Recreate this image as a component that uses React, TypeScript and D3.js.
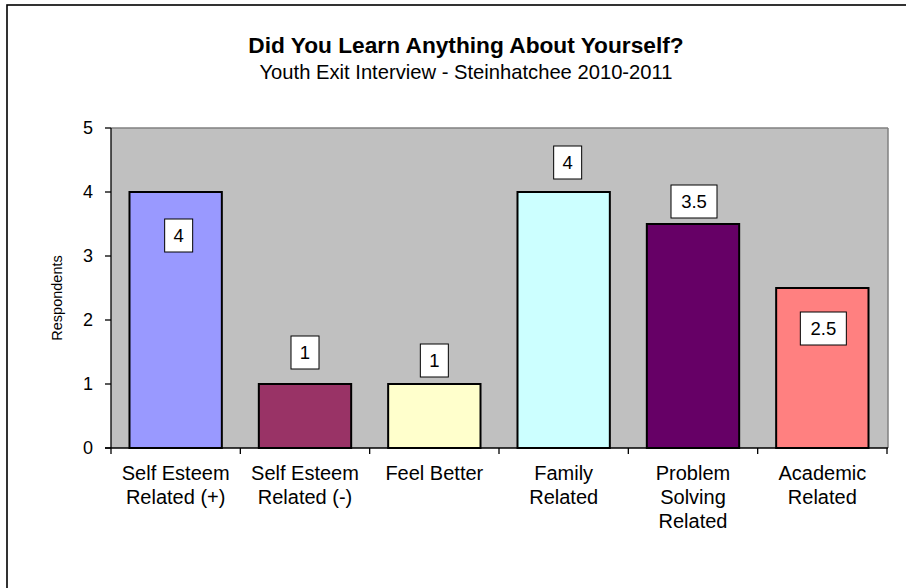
import React from "react";
import * as d3 from "d3";

const categories: string[][] = [
  ["Self Esteem", "Related (+)"],
  ["Self Esteem", "Related (-)"],
  ["Feel Better"],
  ["Family", "Related"],
  ["Problem", "Solving", "Related"],
  ["Academic", "Related"],
];
const values: number[] = [4, 1, 1, 4, 3.5, 2.5];
const valueLabels: string[] = ["4", "1", "1", "4", "3.5", "2.5"];
const yTicks: number[] = [0, 1, 2, 3, 4, 5];
const title = "Did You Learn Anything About Yourself?";
const subtitle = "Youth Exit Interview - Steinhatchee 2010-2011";
const yAxisTitle = "Respondents";

// styles
const barColors = ["#9999FF", "#993366", "#FFFFCC", "#CCFFFF", "#660066", "#FF8080"];
const labelDy = [27, -48, -40, -46, -39, 24];
const labelDx = [3, 0, 0, 4, 1, 1];

const W = 906;
const H = 588;
const left = 111;
const right = 887;
const top = 128;
const bottom = 448;
const FONT = "'Liberation Sans', Arial, sans-serif";

export default function App() {
  const x = d3
    .scaleBand<number>()
    .domain(values.map((_, i) => i))
    .range([left, right])
    .paddingInner(0.286)
    .paddingOuter(0.143);
  const y = d3.scaleLinear().domain([0, 5]).range([bottom, top]);
  const step = x.step();
  const boundaries = d3.range(values.length + 1).map((i) => left + i * step);

  return (
    <svg
      width={W}
      height={H}
      style={{ position: "absolute", left: 0, top: 0, background: "#fff" }}
      fontFamily={FONT}
    >
      <rect x={0} y={0} width={W} height={H} fill="#fff" />
      <rect x={7} y={5} width={1200} height={1200} fill="none" stroke="#000" strokeWidth={1.6} />

      <text x={466} y={53} textAnchor="middle" fontSize={22.7} fontWeight="bold" fill="#000">
        {title}
      </text>
      <text x={466} y={79} textAnchor="middle" fontSize={20.2} fill="#000">
        {subtitle}
      </text>

      {/* plot area */}
      <rect x={left} y={top} width={right - left + 1} height={bottom - top} fill="#C0C0C0" />
      <line x1={left} x2={right + 1} y1={top} y2={top} stroke="#808080" strokeWidth={1.5} />
      <line x1={right + 1} x2={right + 1} y1={top} y2={bottom} stroke="#808080" strokeWidth={1.5} />

      {/* bars */}
      {values.map((v, i) => (
        <rect
          key={i}
          x={x(i)!}
          y={y(v)}
          width={x.bandwidth()}
          height={bottom - y(v)}
          fill={barColors[i]}
          stroke="#000"
          strokeWidth={2}
        />
      ))}

      {/* axes */}
      <line x1={left} x2={left} y1={top} y2={bottom} stroke="#000" strokeWidth={1.3} />
      <line x1={left - 6} x2={right + 1} y1={bottom} y2={bottom} stroke="#000" strokeWidth={1.3} />
      {yTicks.map((t) => (
        <g key={t}>
          <line x1={left - 6} x2={left} y1={y(t)} y2={y(t)} stroke="#000" strokeWidth={1.3} />
          <text x={93} y={y(t)} dy="0.35em" textAnchor="end" fontSize={18} fill="#000">
            {t}
          </text>
        </g>
      ))}
      {boundaries.map((bx, i) => (
        <line key={i} x1={bx} x2={bx} y1={bottom} y2={bottom + 6} stroke="#000" strokeWidth={1.3} />
      ))}

      {/* category labels */}
      {categories.map((lines, i) => (
        <text
          key={i}
          x={x(i)! + x.bandwidth() / 2}
          y={480}
          textAnchor="middle"
          fontSize={20}
          fill="#000"
        >
          {lines.map((l, j) => (
            <tspan key={j} x={x(i)! + x.bandwidth() / 2} y={480 + j * 24}>
              {l}
            </tspan>
          ))}
        </text>
      ))}

      {/* y axis title */}
      <text
        transform={`translate(62,298) rotate(-90)`}
        textAnchor="middle"
        fontSize={14.5}
        fill="#000"
      >
        {yAxisTitle}
      </text>

      {/* value labels */}
      {values.map((v, i) => {
        const label = valueLabels[i];
        const bw = label.length > 1 ? 46 : 28;
        const bh = 33;
        const cx = x(i)! + x.bandwidth() / 2 + labelDx[i];
        const ty = y(v) + labelDy[i];
        return (
          <g key={i}>
            <rect x={cx - bw / 2} y={ty} width={bw} height={bh} fill="#fff" stroke="#000" strokeWidth={1} />
            <text x={cx} y={ty + bh / 2} dy="0.36em" textAnchor="middle" fontSize={18.5} fill="#000">
              {label}
            </text>
          </g>
        );
      })}
    </svg>
  );
}
